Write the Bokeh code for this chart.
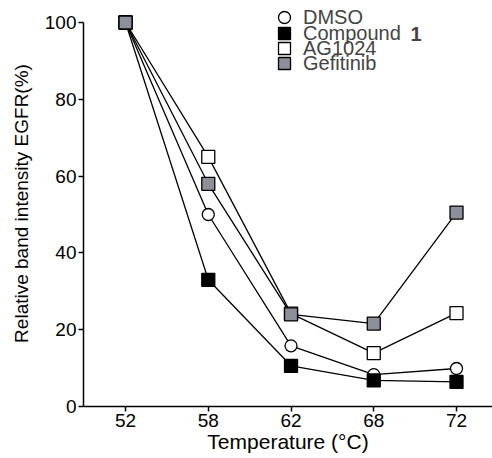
from bokeh.plotting import figure
from bokeh.models import Range1d, FixedTicker, Legend, LegendItem, Label
from bokeh.embed import file_html
from bokeh.resources import INLINE

temps = ["52", "58", "62", "68", "72"]
dmso = [100, 50, 15.8, 8.3, 9.9]
compound1 = [100, 33, 10.6, 6.8, 6.4]
ag1024 = [100, 65, 24.2, 13.9, 24.3]
gefitinib = [100, 58, 24.0, 21.6, 50.5]
yticks = [0, 20, 40, 60, 80, 100]

xs = list(range(len(temps)))
FONT = "Liberation Sans"

p = figure(width=492, height=458, output_backend="svg", toolbar_location=None,
           x_range=Range1d(-0.508, 4.435), y_range=Range1d(0, 105.73),
           min_border_left=83, min_border_right=0, min_border_top=0, min_border_bottom=52)
p.outline_line_color = None
p.xgrid.visible = False
p.ygrid.visible = False
p.background_fill_color = "white"

series = [
    ("DMSO", dmso, "circle", "white", 12),
    ("Compound", compound1, "square", "black", 13),
    ("AG1024", ag1024, "square", "white", 13),
    ("Gefitinib", gefitinib, "square", "#8e9099", 13),
]

for name, vals, m, fc, s in series:
    p.line(xs, vals, line_color="black", line_width=1.3)

legend_y = [374, 358, 343, 328]
for (name, vals, m, fc, s), ly in zip(series, legend_y):
    r = p.scatter(xs, vals, marker=m, size=s, fill_color=fc, line_color="black", line_width=1.3)
    lg = Legend(items=[LegendItem(label=name, renderers=[r])], location=(186, ly),
                glyph_width=30, glyph_height=30, label_height=30, spacing=0,
                padding=0, margin=0, label_standoff=4,
                label_text_font=FONT, label_text_font_size="20px",
                border_line_color=None, background_fill_alpha=0)
    p.add_layout(lg)

p.add_layout(Label(x=327, y=373, x_units="screen", y_units="screen", text="1",
                   text_font=FONT, text_font_size="20px", text_font_style="bold",
                   text_baseline="middle", text_align="left"))

p.xaxis.ticker = FixedTicker(ticks=xs)
p.xaxis.major_label_overrides = {i: t for i, t in zip(xs, temps)}
p.yaxis.ticker = FixedTicker(ticks=yticks)
p.yaxis.bounds = (yticks[0], yticks[-1])

for ax in (p.xaxis[0], p.yaxis[0]):
    ax.axis_line_width = 1.5
    ax.major_tick_line_width = 1.5
    ax.major_tick_out = 5
    ax.major_tick_in = 0
    ax.minor_tick_line_color = None
    ax.major_label_text_font = FONT
    ax.major_label_text_font_size = "19px"
    ax.major_label_text_color = "black"
    ax.axis_label_text_font = FONT
    ax.axis_label_text_font_style = "normal"
    ax.axis_label_text_color = "black"

p.xaxis.axis_label = "Temperature (°C)"
p.xaxis.axis_label_text_font_size = "21px"
p.xaxis.major_label_standoff = 2
p.xaxis.axis_label_standoff = 0
p.yaxis.axis_label = "Relative band intensity EGFR(%)"
p.yaxis.axis_label_text_font_size = "19px"
p.yaxis.major_label_standoff = 2
p.yaxis.axis_label_standoff = 10

open("out.html", "w").write(file_html(p, INLINE))
